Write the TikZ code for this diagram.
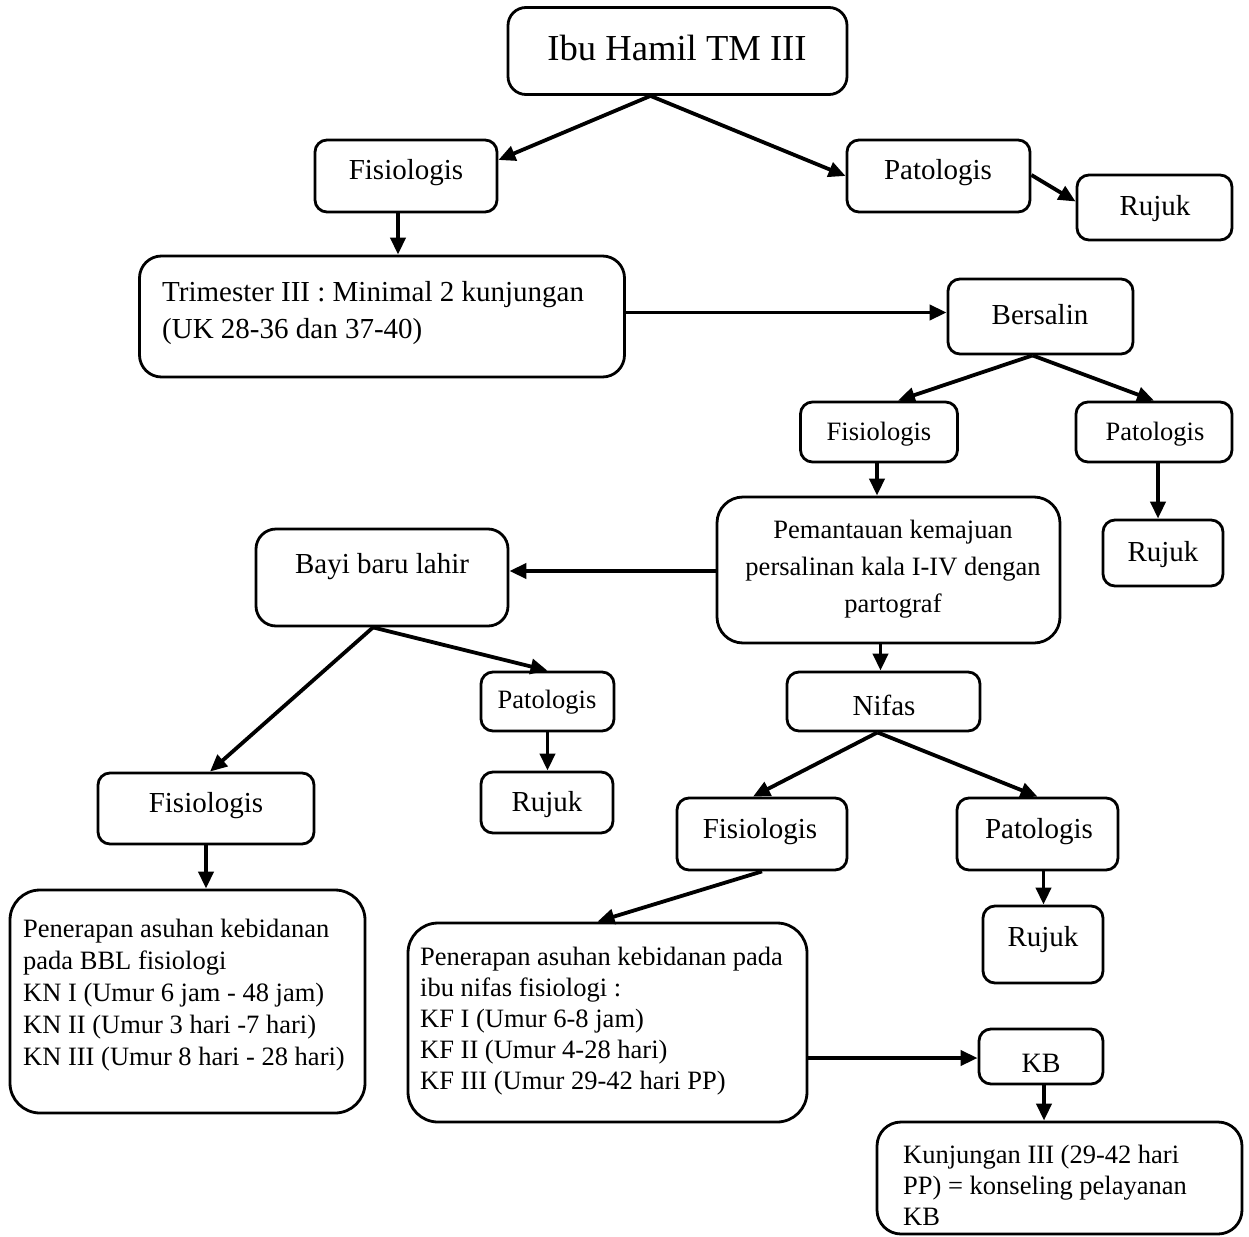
\documentclass[tikz,border=0pt]{standalone}
\usepackage{fontspec}
\setmainfont{Liberation Serif}
\usetikzlibrary{arrows.meta,calc}
\newcommand\fL{\fontsize{36.6}{40}\selectfont}
\newcommand\fN{\fontsize{29}{36}\selectfont}
\newcommand\fK{\fontsize{28}{34}\selectfont}
\newcommand\fS{\fontsize{26.5}{32}\selectfont}
\begin{document}
\begin{tikzpicture}[x=1pt,y=-1pt,
  bx/.style={draw, line width=2.8pt, rounded corners=#1, inner sep=0pt},
  bx/.default=12pt,
  tx/.style={inner sep=0pt, anchor=center},
  arr/.style={line width=3.8pt, -{Triangle[length=17pt,width=15pt]}}]
\useasboundingbox (0,0) rectangle (1249,1236);
% boxes
\node[bx=18pt, minimum width=339pt, minimum height=87pt] (ibu) at (677.5,51) {};
\node[bx, minimum width=182pt, minimum height=72pt] (fis1) at (406,176) {};
\node[bx, minimum width=183pt, minimum height=72pt] (pat1) at (938.5,176) {};
\node[bx, minimum width=155pt, minimum height=65pt] (ruj1) at (1154.5,207.5) {};
\node[bx=22pt, minimum width=485pt, minimum height=121pt] (tri) at (382,316.5) {};
\node[bx, minimum width=185pt, minimum height=75pt] (bers) at (1040.5,316.5) {};
\node[bx, minimum width=157pt, minimum height=60pt] (fis2) at (879,432) {};
\node[bx, minimum width=156pt, minimum height=60pt] (pat2) at (1154,432) {};
\node[bx=26pt, minimum width=343pt, minimum height=146pt] (pem) at (888.5,570) {};
\node[bx, minimum width=120pt, minimum height=66pt] (ruj2) at (1163,553) {};
\node[bx=20pt, minimum width=252pt, minimum height=97pt] (bayi) at (382,577.5) {};
\node[bx, minimum width=133pt, minimum height=59pt] (pat3) at (547.5,701.5) {};
\node[bx, minimum width=132pt, minimum height=61pt] (ruj3) at (547,802.5) {};
\node[bx, minimum width=193pt, minimum height=59pt] (nifas) at (883.5,701.5) {};
\node[bx, minimum width=216pt, minimum height=71pt] (fis3) at (206,808.5) {};
\node[bx, minimum width=170pt, minimum height=72pt] (fis4) at (762,834) {};
\node[bx, minimum width=161pt, minimum height=72pt] (pat4) at (1037.5,834) {};
\node[bx, minimum width=120pt, minimum height=77pt] (ruj4) at (1043,944.5) {};
\node[bx=30pt, minimum width=355pt, minimum height=223pt] (bbl) at (187.5,1001.5) {};
\node[bx=30pt, minimum width=399pt, minimum height=199pt] (penn) at (607.5,1022.5) {};
\node[bx, minimum width=124pt, minimum height=55pt] (kb) at (1041,1056.5) {};
\node[bx=24pt, minimum width=365pt, minimum height=112pt] (kunj) at (1059.5,1178) {};
% texts
\node[tx, font=\fL] (ibut) at (677,48) {Ibu Hamil TM III};
\node[tx, font=\fN] (fis1t) at (406,173) {Fisiologis};
\node[tx, font=\fN] (pat1t) at (938,173) {Patologis};
\node[tx, font=\fN] (ruj1t) at (1155,209) {Rujuk};
\node[inner sep=0pt, anchor=north west, align=left, font={\fontsize{29}{37}\selectfont}] (trit) at (162,281) {Trimester III : Minimal 2 kunjungan\\(UK 28-36 dan 37-40)};
\node[tx, font=\fN] (berst) at (1040,315) {Bersalin};
\node[tx, font=\fS] (fis2t) at (879,434) {Fisiologis};
\node[tx, font=\fS] (pat2t) at (1155,434) {Patologis};
\node[inner sep=0pt, anchor=north, align=center, font={\fontsize{26.5}{37}\selectfont}] (pemt) at (893,520) {Pemantauan kemajuan\\persalinan kala I-IV dengan\\partograf};
\node[tx, font=\fN] (ruj2t) at (1163,555) {Rujuk};
\node[tx, font=\fN] (bayit) at (382,567) {Bayi baru lahir};
\node[tx, font=\fS] (pat3t) at (547,702) {Patologis};
\node[tx, font=\fN] (ruj3t) at (547,805) {Rujuk};
\node[tx, font=\fN] (nifast) at (884,705) {Nifas};
\node[tx, font=\fN] (fis3t) at (206,806) {Fisiologis};
\node[tx, font=\fN] (fis4t) at (760,832) {Fisiologis};
\node[tx, font=\fN] (pat4t) at (1039,832) {Patologis};
\node[tx, font=\fN] (ruj4t) at (1043,940) {Rujuk};
\node[tx, font=\fK] (kbt) at (1041,1063) {KB};
\node[inner sep=0pt, anchor=north west, align=left, font={\fontsize{26.5}{32}\selectfont}] (bblt) at (23,919) {Penerapan asuhan kebidanan\\pada BBL fisiologi\\KN I (Umur 6 jam - 48 jam)\\KN II (Umur 3 hari -7 hari)\\KN III (Umur 8 hari - 28 hari)};
\node[inner sep=0pt, anchor=north west, align=left, font={\fontsize{26.5}{31}\selectfont}] (pennt) at (420,947) {Penerapan asuhan kebidanan pada\\ibu nifas fisiologi :\\KF I (Umur 6-8 jam)\\KF II (Umur 4-28 hari)\\KF III (Umur 29-42 hari PP)};
\node[inner sep=0pt, anchor=north west, align=left, font={\fontsize{26.5}{31}\selectfont}] (kunjt) at (903,1145) {Kunjungan III (29-42 hari\\PP) = konseling pelayanan\\KB};
% arrows
\draw[arr] ($(ibu.south)+(-27,0)$) -- ($(fis1.east)+(0,-16)$);
\draw[arr] ($(ibu.south)+(-27,0)$) -- (pat1.west);
\draw[arr] ($(pat1.east)+(0,-1)$) -- ($(ruj1.west)+(0,-6)$);
\draw[arr] ($(fis1.south)+(-8,0)$) coordinate (s1) -- (s1 |- tri.north);
\draw[arr] ($(tri.east)+(0,-4)$) -- ($(bers.west)+(0,-4)$);
\draw[arr] ($(bers.south)+(-8,0)$) -- ($(fis2.north)+(19,0)$);
\draw[arr] ($(bers.south)+(-8,0)$) -- (pat2.north);
\draw[arr] ($(fis2.south)+(-2,0)$) coordinate (s2) -- (s2 |- pem.north);
\draw[arr] ($(pat2.south)+(4,0)$) coordinate (s3) -- (s3 |- ruj2.north);
\draw[arr] ($(pem.west)+(0,1)$) -- ($(bayi.east)+(0,-6.5)$);
\draw[arr] ($(bayi.south)+(-9,0)$) -- ($(fis3.north)+(4,0)$);
\draw[arr] ($(bayi.south)+(-9,0)$) -- (pat3.north);
\draw[arr] (pat3.south) -- (ruj3.north -| pat3.south);
\draw[arr] (fis3.south) -- (bbl.north -| fis3.south);
\draw[arr] ($(pem.south)+(-8,0)$) coordinate (s4) -- (s4 |- nifas.north);
\draw[arr] ($(nifas.south)+(-6,0)$) -- ($(fis4.north)+(-9,0)$);
\draw[arr] ($(nifas.south)+(-6,0)$) -- (pat4.north);
\draw[arr] (fis4.south) -- ($(penn.north)+(-10,0)$);
\draw[arr] ($(pat4.south)+(6,0)$) coordinate (s5) -- (s5 |- ruj4.north);
\draw[arr] ($(penn.east)+(0,35.5)$) -- ($(kb.west)+(0,1.5)$);
\draw[arr] ($(kb.south)+(3,0)$) coordinate (s6) -- (s6 |- kunj.north);
\end{tikzpicture}
\end{document}
